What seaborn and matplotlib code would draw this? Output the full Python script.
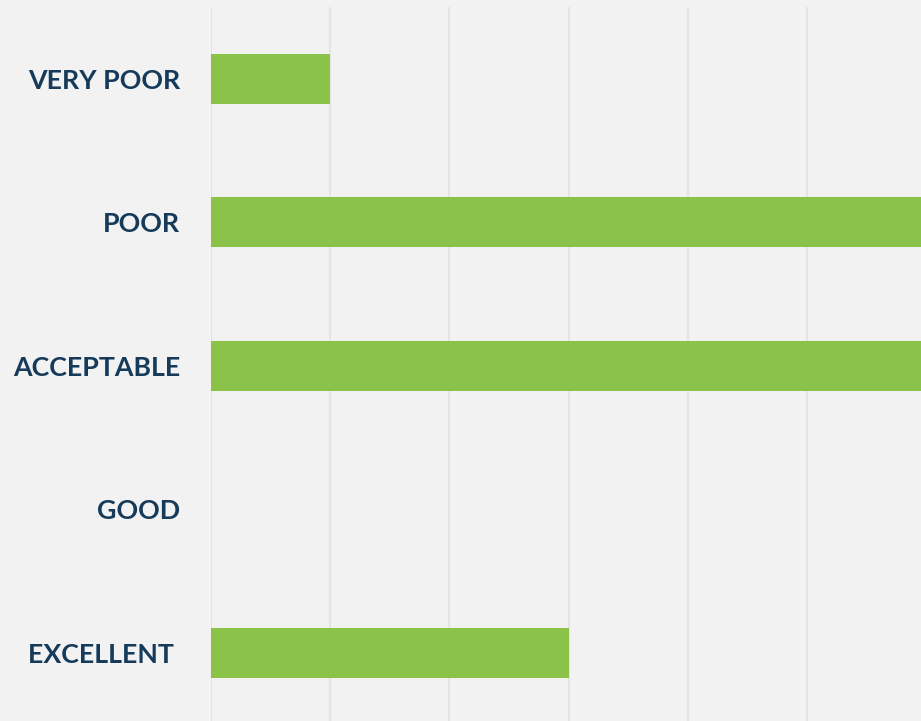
import matplotlib
matplotlib.use("Agg")
import matplotlib.pyplot as plt
import seaborn as sns
import pandas as pd

categories = ["VERY POOR", "POOR", "ACCEPTABLE", "GOOD", "EXCELLENT"]
tick_labels = ["VERY POOR", "POOR", "ACCEPTABLE", "GOOD", "EXCELLENT "]
values = [1, 6, 6, 0, 3]

df = pd.DataFrame({"category": categories, "value": values})

sns.set_theme(style="white")
plt.rcParams["font.family"] = ["Lato", "DejaVu Sans"]

fig = plt.figure(figsize=(9.21, 7.21), dpi=100)
fig.patch.set_facecolor("#f2f2f2")
ax = fig.add_axes([211 / 921, 0, 1 - 211 / 921, 1 - 7 / 721])
ax.set_facecolor("#f2f2f2")

sns.barplot(data=df, x="value", y="category", order=categories, color="#8bc34a",
            saturation=1, width=0.35, ax=ax, zorder=3, linewidth=0, edgecolor="none")

ax.set_xlim(0, 5.956)
ax.set_ylim(4.474, -0.5)
ax.set_xticks([0, 1, 2, 3, 4, 5])
ax.xaxis.grid(True, color="#e4e4e4", linewidth=1.5, zorder=0)
ax.yaxis.grid(False)
ax.set_axisbelow(True)
ax.tick_params(axis="x", bottom=False, labelbottom=False)
ax.tick_params(axis="y", left=False, pad=16)
ax.set_yticks(range(len(categories)))
ax.set_yticklabels(tick_labels, fontsize=19.3, fontweight="bold", color="#163a5a")
ax.set_xlabel("")
ax.set_ylabel("")
for s in ax.spines.values():
    s.set_visible(False)

fig.savefig("out.png", dpi=100, facecolor=fig.get_facecolor())
